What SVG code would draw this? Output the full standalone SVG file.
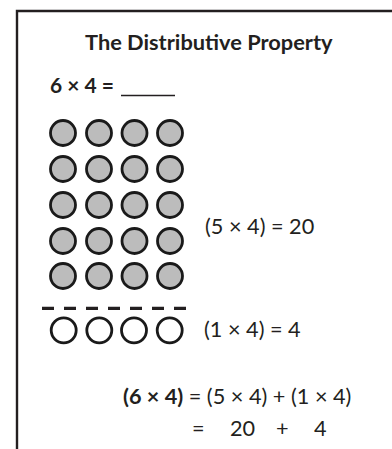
<svg xmlns="http://www.w3.org/2000/svg" width="392" height="449" viewBox="0 0 392 449">
<style>
text{font-family:Lato,"Noto Sans","Liberation Sans",sans-serif;fill:#231f20}
.b{font-weight:bold}
.r{font-size:21.7px}
.dot{stroke:#1a1a1a;stroke-width:2.8}
.g{fill:#bcbcbc}
.w{fill:#fff}
</style>
<rect width="392" height="449" fill="#fff"/>
<path d="M17 449V11H392" fill="none" stroke="#231f20" stroke-width="2.4"/>
<text id="title" class="b" x="85" y="49.5" font-size="21.8">The Distributive Property</text>
<g id="question">
<text class="b" x="50" y="92.5" font-size="21">6 × 4 =</text>
<line x1="121" y1="95.5" x2="175" y2="95.5" stroke="#231f20" stroke-width="1.6"/>
</g>
<g id="gray-dots">
<g class="dot g">
<circle cx="63" cy="133" r="12.5"/><circle cx="99" cy="133" r="12.5"/><circle cx="134.5" cy="133" r="12.5"/><circle cx="170" cy="133" r="12.5"/>
<circle cx="63" cy="169" r="12.5"/><circle cx="99" cy="169" r="12.5"/><circle cx="134.5" cy="169" r="12.5"/><circle cx="170" cy="169" r="12.5"/>
<circle cx="63" cy="205" r="12.5"/><circle cx="99" cy="205" r="12.5"/><circle cx="134.5" cy="205" r="12.5"/><circle cx="170" cy="205" r="12.5"/>
<circle cx="63" cy="241" r="12.5"/><circle cx="99" cy="241" r="12.5"/><circle cx="134.5" cy="241" r="12.5"/><circle cx="170" cy="241" r="12.5"/>
<circle cx="63" cy="276" r="12.5"/><circle cx="99" cy="276" r="12.5"/><circle cx="134.5" cy="276" r="12.5"/><circle cx="170" cy="276" r="12.5"/>
</g>
</g>
<g id="divider">
<line x1="42" y1="308.3" x2="192" y2="308.3" stroke="#231f20" stroke-width="3.2" stroke-dasharray="12 10"/>
</g>
<g id="white-dots">
<g class="dot w">
<circle cx="63.7" cy="330.3" r="12.5"/><circle cx="99.3" cy="330.3" r="12.5"/><circle cx="134" cy="330.3" r="12.5"/><circle cx="169.7" cy="330.3" r="12.5"/>
</g>
</g>
<text id="label-5x4" class="r" x="205" y="233.5">(5 × 4) = 20</text>
<text id="label-1x4" class="r" x="204" y="337">(1 × 4) = 4</text>
<g id="equation">
<text class="r" x="123" y="403.5"><tspan class="b">(6 × 4)</tspan> = (5 × 4) + (1 × 4)</text>
<text class="r" x="192" y="435.5">=</text>
<text class="r" x="230" y="435.5">20</text>
<text class="r" x="276" y="435.5">+</text>
<text class="r" x="314" y="435.5">4</text>
</g>
</svg>
